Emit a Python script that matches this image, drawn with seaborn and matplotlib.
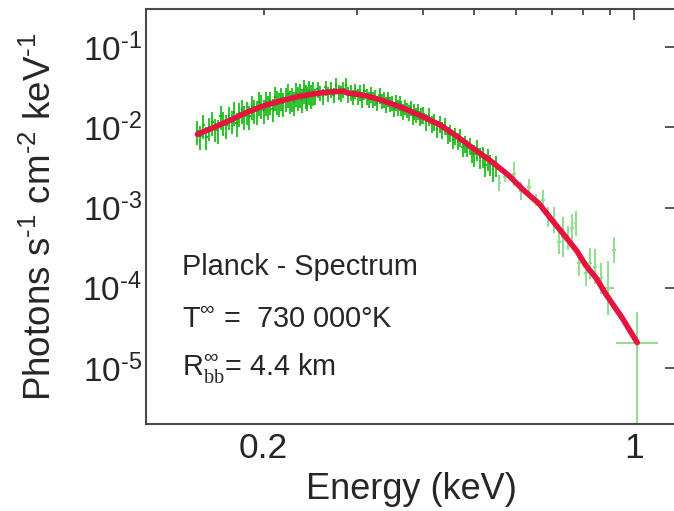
import numpy as np
import matplotlib
matplotlib.use("Agg")
import matplotlib.pyplot as plt
import seaborn as sns
from matplotlib.ticker import FixedLocator, FixedFormatter, NullLocator

sns.set_theme(style="white")
plt.rcParams["font.family"] = ["Liberation Sans", "DejaVu Sans"]
plt.rcParams["mathtext.fontset"] = "custom"
plt.rcParams["mathtext.rm"] = "Liberation Sans"
plt.rcParams["mathtext.it"] = "Liberation Sans:italic"
plt.rcParams["mathtext.sf"] = "Liberation Serif"
plt.rcParams["axes.unicode_minus"] = False

HY = "\u2010"  # short hyphen for exponents

# ---- measured spectrum (flux in 1e-3 photons s^-1 cm^-2 keV^-1) ----
# fine channels, 0.150-0.248 keV
e_low = np.arange(0.150, 0.2495, 0.002)
f_low = [9.0, 7.8, 10.7, 7.7, 10.0, 11.6, 9.7, 9.3, 13.8, 11.6,
         10.6, 13.7, 12.2, 15.6, 11.5, 15.0, 16.4, 13.8, 15.8, 13.9,
         18.7, 16.5, 15.9, 20.9, 18.9, 16.6, 21.0, 18.6, 21.1, 17.2,
         24.0, 21.2, 20.0, 23.6, 20.0, 23.5, 25.9, 21.7, 23.2, 21.0,
         26.9, 23.8, 25.8, 22.9, 29.4, 25.7, 23.9, 28.3, 25.1, 27.4]
err_low = 0.33

# 0.250-0.397 keV
e_mid = np.arange(0.250, 0.3995, 0.003)
f_mid = [24.5, 29.8, 27.2, 24.4, 31.5, 26.5, 30.0, 25.7, 33.7, 27.9,
         26.6, 30.0, 33.8, 26.1, 27.5, 24.1, 28.8, 24.7, 27.5, 22.6,
         28.4, 24.7, 22.6, 26.1, 22.6, 24.0, 20.4, 25.4, 21.5, 22.6,
         19.4, 23.0, 19.7, 20.3, 17.2, 20.6, 17.8, 20.5, 17.7, 15.9,
         18.1, 16.7, 15.4, 17.6, 13.7, 15.9, 14.5, 15.9, 13.2, 14.3]
err_mid = 0.22

# 0.400-0.495 keV
e_high = np.arange(0.400, 0.4995, 0.005)
f_high = [14.7, 12.0, 13.9, 11.2, 11.8, 9.6, 11.3, 9.5, 10.7, 8.2,
          8.6, 7.0, 8.0, 6.8, 7.6, 5.7, 6.3, 5.6, 5.9, 4.8]
err_high = 0.24

# 0.500-0.548 keV
e_tail = np.arange(0.500, 0.5495, 0.006)
f_tail = [4.6, 5.4, 4.3, 4.4, 3.4, 4.1, 3.5, 3.0, 3.4]
err_tail = 0.30

# wide channels above 0.55 keV
e_sparse = [0.557, 0.571, 0.594, 0.612, 0.634, 0.653, 0.674, 0.687, 0.707, 0.722, 0.735,
            0.749, 0.763, 0.776, 0.788, 0.811, 0.825, 0.844, 0.866, 0.892, 0.917]
f_sparse = [2.00, 2.42, 2.61, 1.62, 1.79, 1.26, 1.24, 0.77, 0.70, 0.375, 0.433,
            0.413, 0.55, 0.636, 0.202, 0.151, 0.202, 0.183, 0.131, 0.100, 0.295]
dex_sparse = [0.10, 0.06, 0.15, 0.11, 0.11, 0.075, 0.125, 0.125, 0.16, 0.15, 0.25,
              0.15, 0.175, 0.16, 0.16, 0.16, 0.19, 0.22, 0.19, 0.34, 0.16]
hw_sparse = [0.004, 0.004, 0.005, 0.005, 0.005, 0.005, 0.006, 0.006, 0.006, 0.006, 0.006,
             0.006, 0.006, 0.006, 0.007, 0.007, 0.007, 0.008, 0.008, 0.025, 0.008]

# last channel
e_last = 1.014
f_last = 2.07e-5
f_last_hi = 5.0e-5
e_last_lo, e_last_hi = 0.924, 1.11

# ---- best-fit blackbody model ----
e_model = [0.150, 0.160, 0.173, 0.185, 0.199, 0.215, 0.231, 0.248, 0.266, 0.283, 0.287,
           0.310, 0.331, 0.360, 0.394, 0.430, 0.460, 0.495, 0.540, 0.581, 0.620, 0.662,
           0.700, 0.744, 0.780, 0.811, 0.850, 0.884, 0.950, 1.014]
f_model = [0.0082, 0.0098, 0.0123, 0.0152, 0.0184, 0.0213, 0.0240, 0.0262, 0.0277, 0.0283, 0.0270,
           0.0251, 0.0223, 0.0183, 0.0142, 0.0108, 0.0080, 0.0056, 0.0037, 0.00250, 0.00163, 0.00112,
           0.00070, 0.000427, 0.000288, 0.00019, 0.000130, 0.000084, 0.000042, 0.0000207]

GREEN = "#00b400"
LIGHT_GREEN = "#8fdf8f"
RED = "#e8123e"
AXIS = "#4a4a4a"

fig = plt.figure(figsize=(6.74, 5.11), dpi=100)
ax = fig.add_axes([146 / 674, 1 - 424 / 511, 530 / 674, 415 / 511])
ax.set_xscale("log")
ax.set_yscale("log")

for e, f, rel, step in [(e_low, f_low, err_low, 0.002), (e_mid, f_mid, err_mid, 0.003),
                        (e_high, f_high, err_high, 0.005), (e_tail, f_tail, err_tail, 0.006)]:
    f = np.asarray(f) * 1e-3
    ax.errorbar(e, f, yerr=f * rel, xerr=step / 2, fmt="none", ecolor=GREEN,
                elinewidth=1.5, alpha=0.8, capsize=0, zorder=2)

fs = np.asarray(f_sparse) * 1e-3
d = np.asarray(dex_sparse)
ax.errorbar(e_sparse, fs, yerr=[fs * (1 - 10 ** -d), fs * (10 ** d - 1)], xerr=hw_sparse,
            fmt="none", ecolor=LIGHT_GREEN, elinewidth=1.4, capsize=0, zorder=2)
ax.errorbar([e_last], [f_last], yerr=[[f_last - 1e-7], [f_last_hi - f_last]],
            xerr=[[e_last - e_last_lo], [e_last_hi - e_last]],
            fmt="none", ecolor=LIGHT_GREEN, elinewidth=1.4, capsize=0, zorder=2)

sns.lineplot(x=e_model, y=f_model, ax=ax, color=RED, linewidth=4, sort=False, zorder=3)

ax.set_xlim(0.12, 1.2)
ax.set_ylim(2e-6, 0.3)

ax.xaxis.set_major_locator(FixedLocator([1.0]))
ax.xaxis.set_major_formatter(FixedFormatter(["1"]))
minor_x = [0.2, 0.3, 0.4, 0.5, 0.6, 0.7, 0.8, 0.9]
ax.xaxis.set_minor_locator(FixedLocator(minor_x))
ax.xaxis.set_minor_formatter(FixedFormatter(["0.2"] + [""] * 7))
y_exps = [5, 4, 3, 2, 1]
ax.yaxis.set_major_locator(FixedLocator([10.0 ** -k for k in y_exps]))
ax.yaxis.set_major_formatter(FixedFormatter([f"10$^{{{HY}{k}}}$" for k in y_exps]))
ax.yaxis.set_minor_locator(NullLocator())

ax.tick_params(which="both", direction="in", top=True, right=True, color=AXIS, width=1.3)
ax.tick_params(which="major", length=8)
ax.tick_params(which="minor", length=4.3)
ax.tick_params(axis="x", which="both", labelsize=25.5, pad=6)
ax.tick_params(axis="y", which="both", labelsize=24, pad=3)
for s in ax.spines.values():
    s.set_color(AXIS)
    s.set_linewidth(1.5)

ax.set_xlabel("Energy (keV)", fontsize=26, labelpad=5)
ax.set_ylabel(f"Photons s$^{{{HY}1}}$ cm$^{{{HY}2}}$ keV$^{{{HY}1}}$", fontsize=26.5, labelpad=17)

fig.text(182 / 674, 1 - 275 / 511, "Planck - Spectrum", fontsize=20.8, va="baseline")
fig.text(182 / 674, 1 - 327 / 511, r"T$^{\infty}$ =  730 000°K", fontsize=20.8, va="baseline")
fig.text(182 / 674, 1 - 375 / 511, r"R$^{\infty}_{\mathsf{bb}}$= 4.4 km", fontsize=20.8, va="baseline")

fig.savefig("out.png", dpi=100)
